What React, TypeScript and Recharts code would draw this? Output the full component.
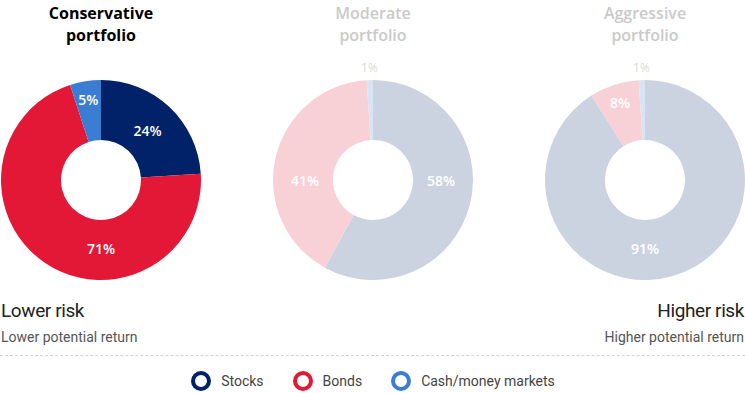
import React from 'react';
import { PieChart, Pie, Cell } from 'recharts';

const categories = ['Stocks', 'Bonds', 'Cash/money markets'];
const portfolioNames = ['Conservative', 'Moderate', 'Aggressive'];
const conservative = [24, 71, 5];
const moderate = [58, 41, 1];
const aggressive = [91, 8, 1];

const strong = ['#012169', '#e31837', '#3b7dd2'];
const faded = ['#cbd3e0', '#f8d1d7', '#d8e4f4'];

const toRows = (values: number[]) => categories.map((name, i) => ({ name, value: values[i] }));
const portfolios = [conservative, moderate, aggressive].map(toRows);

const RAD = Math.PI / 180;
const titleFont = '"Open Sans", "Noto Sans", sans-serif';
const bodyFont = 'Roboto, sans-serif';

const makeLabel = (active: boolean) => (props: any) => {
  const { cx, cy, midAngle, outerRadius, value } = props;
  const outside = value < 3;
  // big slices get their label snapped to the nearest quarter
  const angle = value > 30 ? Math.round(midAngle / 90) * 90 : midAngle;
  const r = outside ? outerRadius + 13 : value < 10 ? outerRadius - 19 : outerRadius - 32;
  const x = cx + r * Math.cos(-angle * RAD);
  const y = cy + r * Math.sin(-angle * RAD);
  return (
    <text
      x={x}
      y={y}
      textAnchor="middle"
      dominantBaseline="central"
      fontFamily={titleFont}
      fontSize={outside ? 12 : 14}
      fontWeight={outside ? 400 : 600}
      fill={outside ? (active ? '#999' : '#dadada') : '#fff'}
    >
      {value}%
    </text>
  );
};

const centres = [101, 373, 645];

const riskStyle: React.CSSProperties = {
  fontSize: 19,
  lineHeight: '24px',
  letterSpacing: -0.4,
};

export default function App() {
  return (
    <div style={{ position: 'fixed', left: 0, top: 0, width: 745, height: 393, background: '#fff', overflow: 'hidden' }}>
      {portfolioNames.map((name, i) => (
        <div
          key={name}
          style={{
            position: 'absolute',
            left: centres[i] - 80,
            top: 2,
            width: 160,
            textAlign: 'center',
            fontFamily: titleFont,
            fontSize: 16,
            fontWeight: i === 0 ? 700 : 600,
            lineHeight: '22px',
            color: i === 0 ? '#000' : '#cacaca',
          }}
        >
          {name}
          <br />
          portfolio
        </div>
      ))}
      <div style={{ position: 'absolute', top: 1, left: 0 }}>
        <PieChart width={745} height={290} margin={{ top: 0, right: 0, bottom: 0, left: 0 }}>
          {portfolios.map((rows, i) => (
            <Pie
              key={portfolioNames[i]}
              data={rows}
              dataKey="value"
              nameKey="name"
              cx={centres[i]}
              cy={179}
              innerRadius={40}
              outerRadius={100}
              startAngle={90}
              endAngle={-270}
              stroke="none"
              labelLine={false}
              label={makeLabel(i === 0)}
              isAnimationActive={false}
            >
              {rows.map((r, j) => (
                <Cell key={r.name} fill={(i === 0 ? strong : faded)[j]} />
              ))}
            </Pie>
          ))}
        </PieChart>
      </div>
      <div style={{ position: 'absolute', left: 1, top: 299, fontFamily: bodyFont, color: '#222' }}>
        <div style={riskStyle}>Lower risk</div>
        <div style={{ fontSize: 14, lineHeight: '18px', marginTop: 5, color: '#555' }}>Lower potential return</div>
      </div>
      <div style={{ position: 'absolute', right: 1, top: 299, textAlign: 'right', fontFamily: bodyFont, color: '#222' }}>
        <div style={riskStyle}>Higher risk</div>
        <div style={{ fontSize: 14, lineHeight: '18px', marginTop: 5, color: '#555' }}>Higher potential return</div>
      </div>
      <div style={{ position: 'absolute', left: 0, right: 0, top: 355, borderTop: '1px dashed #d4d4d4' }} />
      <div
        style={{
          position: 'absolute',
          top: 370,
          left: 0,
          width: 745,
          display: 'flex',
          justifyContent: 'center',
          fontFamily: bodyFont,
          fontSize: 14,
          lineHeight: '22px',
          color: '#444',
        }}
      >
        {categories.map((c, i) => (
          <div key={c} style={{ display: 'flex', alignItems: 'center', marginRight: i < 2 ? 28 : 0 }}>
            <svg width={22} height={22} style={{ marginRight: 9, display: 'block' }}>
              <circle cx={11} cy={11} r={8} fill="#fff" stroke={strong[i]} strokeWidth={4} />
            </svg>
            <span>{c}</span>
          </div>
        ))}
      </div>
    </div>
  );
}
